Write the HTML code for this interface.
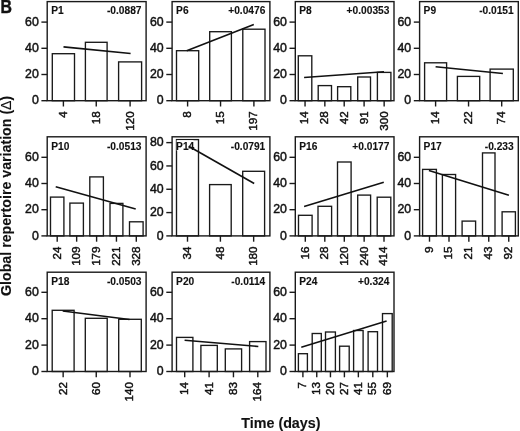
<!DOCTYPE html>
<html><head><meta charset="utf-8"><style>
html,body{margin:0;padding:0;background:#fff;}
svg{display:block;filter:grayscale(1);}
text{font-family:"Liberation Sans",sans-serif;fill:#111;stroke:#111;stroke-width:0.45px;}
.b{fill:#fff;stroke:#1a1a1a;stroke-width:1.35;}
.fr{fill:none;stroke:#1a1a1a;stroke-width:1.4;}
.k{stroke:#1a1a1a;stroke-width:1.4;}
.t{stroke:#111;stroke-width:1.6;}
.yl{font-size:12.3px;text-anchor:end;}
.xl{font-size:11.6px;text-anchor:end;}
.pl{font-size:10.2px;font-weight:bold;letter-spacing:0px;stroke-width:0.12px;}
.ti{font-size:14px;font-weight:bold;stroke-width:0.12px;}
</style></head><body>
<svg width="520" height="431" viewBox="0 0 520 431">
<text x="0.6" y="13" style="font-size:18px;font-weight:bold" transform="translate(0.6,13) scale(0.88,1) translate(-0.6,-13)">B</text>
<text transform="translate(11.2,195.8) rotate(-90)" class="ti" text-anchor="middle" style="font-size:14.2px">Global repertoire variation (<tspan style="font-weight:normal">Δ</tspan>)</text>
<text x="280.9" y="427.8" class="ti" text-anchor="middle" style="font-size:14.3px">Time (days)</text>
<rect x="52.3" y="53.7" width="22.2" height="47" class="b"/>
<rect x="85.4" y="42.3" width="21.7" height="58.4" class="b"/>
<rect x="118.6" y="61.9" width="23" height="38.8" class="b"/>
<line x1="63.5" y1="46.9" x2="130.6" y2="53.5" class="t"/>
<rect x="47.2" y="1.6" width="98.9" height="99.1" class="fr"/>
<line x1="41.4" y1="100.7" x2="47.2" y2="100.7" class="k"/>
<text transform="translate(38.8,104.3) scale(1,1)" class="yl">0</text>
<line x1="41.4" y1="74.5" x2="47.2" y2="74.5" class="k"/>
<text transform="translate(38.8,78.1) scale(1,1)" class="yl">20</text>
<line x1="41.4" y1="48.3" x2="47.2" y2="48.3" class="k"/>
<text transform="translate(38.8,51.9) scale(1,1)" class="yl">40</text>
<line x1="41.4" y1="22.1" x2="47.2" y2="22.1" class="k"/>
<text transform="translate(38.8,25.7) scale(1,1)" class="yl">60</text>
<line x1="63.4" y1="100.7" x2="63.4" y2="106.5" class="k"/>
<text transform="translate(66.8,111.3) rotate(-90)" class="xl">4</text>
<line x1="96.25" y1="100.7" x2="96.25" y2="106.5" class="k"/>
<text transform="translate(99.65,111.3) rotate(-90)" class="xl">18</text>
<line x1="130.1" y1="100.7" x2="130.1" y2="106.5" class="k"/>
<text transform="translate(133.5,111.3) rotate(-90)" class="xl">120</text>
<text transform="translate(51.2,14.3) scale(1,1)" class="pl">P1</text>
<text transform="translate(141.5,14.3) scale(1,1)" class="pl" text-anchor="end">-0.0887</text>
<rect x="176.5" y="50.7" width="22.2" height="50" class="b"/>
<rect x="209.7" y="31.7" width="21.7" height="69" class="b"/>
<rect x="242.8" y="29.2" width="22.2" height="71.5" class="b"/>
<line x1="186.7" y1="50.7" x2="253.8" y2="24.6" class="t"/>
<rect x="172.1" y="1.6" width="97.8" height="99.1" class="fr"/>
<line x1="166.3" y1="100.7" x2="172.1" y2="100.7" class="k"/>
<text transform="translate(163.7,104.3) scale(1,1)" class="yl">0</text>
<line x1="166.3" y1="74.5" x2="172.1" y2="74.5" class="k"/>
<text transform="translate(163.7,78.1) scale(1,1)" class="yl">20</text>
<line x1="166.3" y1="48.3" x2="172.1" y2="48.3" class="k"/>
<text transform="translate(163.7,51.9) scale(1,1)" class="yl">40</text>
<line x1="166.3" y1="22.1" x2="172.1" y2="22.1" class="k"/>
<text transform="translate(163.7,25.7) scale(1,1)" class="yl">60</text>
<line x1="187.6" y1="100.7" x2="187.6" y2="106.5" class="k"/>
<text transform="translate(191,111.3) rotate(-90)" class="xl">8</text>
<line x1="220.55" y1="100.7" x2="220.55" y2="106.5" class="k"/>
<text transform="translate(223.95,111.3) rotate(-90)" class="xl">15</text>
<line x1="253.9" y1="100.7" x2="253.9" y2="106.5" class="k"/>
<text transform="translate(257.3,111.3) rotate(-90)" class="xl">197</text>
<text transform="translate(176.1,14.3) scale(1,1)" class="pl">P6</text>
<text transform="translate(265.3,14.3) scale(1,1)" class="pl" text-anchor="end">+0.0476</text>
<rect x="298.3" y="55.8" width="13.5" height="44.9" class="b"/>
<rect x="318.2" y="85.6" width="13.3" height="15.1" class="b"/>
<rect x="337.6" y="86.7" width="13.2" height="14" class="b"/>
<rect x="357.7" y="77" width="12.8" height="23.7" class="b"/>
<rect x="377.4" y="72.4" width="13.5" height="28.3" class="b"/>
<line x1="304.1" y1="77.5" x2="384" y2="71.8" class="t"/>
<rect x="295.3" y="1.6" width="98.7" height="99.1" class="fr"/>
<line x1="289.5" y1="100.7" x2="295.3" y2="100.7" class="k"/>
<text transform="translate(286.9,104.3) scale(1,1)" class="yl">0</text>
<line x1="289.5" y1="74.5" x2="295.3" y2="74.5" class="k"/>
<text transform="translate(286.9,78.1) scale(1,1)" class="yl">20</text>
<line x1="289.5" y1="48.3" x2="295.3" y2="48.3" class="k"/>
<text transform="translate(286.9,51.9) scale(1,1)" class="yl">40</text>
<line x1="289.5" y1="22.1" x2="295.3" y2="22.1" class="k"/>
<text transform="translate(286.9,25.7) scale(1,1)" class="yl">60</text>
<line x1="305.05" y1="100.7" x2="305.05" y2="106.5" class="k"/>
<text transform="translate(308.45,111.3) rotate(-90)" class="xl">14</text>
<line x1="324.85" y1="100.7" x2="324.85" y2="106.5" class="k"/>
<text transform="translate(328.25,111.3) rotate(-90)" class="xl">28</text>
<line x1="344.2" y1="100.7" x2="344.2" y2="106.5" class="k"/>
<text transform="translate(347.6,111.3) rotate(-90)" class="xl">42</text>
<line x1="364.1" y1="100.7" x2="364.1" y2="106.5" class="k"/>
<text transform="translate(367.5,111.3) rotate(-90)" class="xl">91</text>
<line x1="384.15" y1="100.7" x2="384.15" y2="106.5" class="k"/>
<text transform="translate(387.55,111.3) rotate(-90)" class="xl">300</text>
<text transform="translate(299.3,14.3) scale(1,1)" class="pl">P8</text>
<text transform="translate(389.4,14.3) scale(1,1)" class="pl" text-anchor="end">+0.00353</text>
<rect x="424.6" y="62.8" width="22" height="37.9" class="b"/>
<rect x="457.4" y="76.4" width="22.3" height="24.3" class="b"/>
<rect x="490.1" y="69.1" width="23.2" height="31.6" class="b"/>
<line x1="435.6" y1="66.8" x2="502.9" y2="73.5" class="t"/>
<rect x="419.6" y="1.6" width="98.7" height="99.1" class="fr"/>
<line x1="413.8" y1="100.7" x2="419.6" y2="100.7" class="k"/>
<text transform="translate(411.2,104.3) scale(1,1)" class="yl">0</text>
<line x1="413.8" y1="74.5" x2="419.6" y2="74.5" class="k"/>
<text transform="translate(411.2,78.1) scale(1,1)" class="yl">20</text>
<line x1="413.8" y1="48.3" x2="419.6" y2="48.3" class="k"/>
<text transform="translate(411.2,51.9) scale(1,1)" class="yl">40</text>
<line x1="413.8" y1="22.1" x2="419.6" y2="22.1" class="k"/>
<text transform="translate(411.2,25.7) scale(1,1)" class="yl">60</text>
<line x1="435.6" y1="100.7" x2="435.6" y2="106.5" class="k"/>
<text transform="translate(439,111.3) rotate(-90)" class="xl">14</text>
<line x1="468.55" y1="100.7" x2="468.55" y2="106.5" class="k"/>
<text transform="translate(471.95,111.3) rotate(-90)" class="xl">22</text>
<line x1="501.7" y1="100.7" x2="501.7" y2="106.5" class="k"/>
<text transform="translate(505.1,111.3) rotate(-90)" class="xl">74</text>
<text transform="translate(423.6,14.3) scale(1,1)" class="pl">P9</text>
<text transform="translate(513.7,14.3) scale(1,1)" class="pl" text-anchor="end">-0.0151</text>
<rect x="50.5" y="197.1" width="13.4" height="38.8" class="b"/>
<rect x="69.9" y="203.1" width="13.5" height="32.8" class="b"/>
<rect x="89.8" y="176.9" width="13.6" height="59" class="b"/>
<rect x="110" y="203.4" width="12.9" height="32.5" class="b"/>
<rect x="129.5" y="221.8" width="13.6" height="14.1" class="b"/>
<line x1="55.7" y1="186.7" x2="135.7" y2="208.9" class="t"/>
<rect x="47.2" y="136.8" width="98.9" height="99.1" class="fr"/>
<line x1="41.4" y1="235.9" x2="47.2" y2="235.9" class="k"/>
<text transform="translate(38.8,239.5) scale(1,1)" class="yl">0</text>
<line x1="41.4" y1="209.7" x2="47.2" y2="209.7" class="k"/>
<text transform="translate(38.8,213.3) scale(1,1)" class="yl">20</text>
<line x1="41.4" y1="183.5" x2="47.2" y2="183.5" class="k"/>
<text transform="translate(38.8,187.1) scale(1,1)" class="yl">40</text>
<line x1="41.4" y1="157.3" x2="47.2" y2="157.3" class="k"/>
<text transform="translate(38.8,160.9) scale(1,1)" class="yl">60</text>
<line x1="57.2" y1="235.9" x2="57.2" y2="241.7" class="k"/>
<text transform="translate(60.6,246.5) rotate(-90)" class="xl">24</text>
<line x1="76.65" y1="235.9" x2="76.65" y2="241.7" class="k"/>
<text transform="translate(80.05,246.5) rotate(-90)" class="xl">109</text>
<line x1="96.6" y1="235.9" x2="96.6" y2="241.7" class="k"/>
<text transform="translate(100,246.5) rotate(-90)" class="xl">179</text>
<line x1="116.45" y1="235.9" x2="116.45" y2="241.7" class="k"/>
<text transform="translate(119.85,246.5) rotate(-90)" class="xl">221</text>
<line x1="136.3" y1="235.9" x2="136.3" y2="241.7" class="k"/>
<text transform="translate(139.7,246.5) rotate(-90)" class="xl">328</text>
<text transform="translate(51.2,149.5) scale(1,1)" class="pl">P10</text>
<text transform="translate(141.5,149.5) scale(1,1)" class="pl" text-anchor="end">-0.0513</text>
<rect x="176.5" y="139.6" width="22" height="96.3" class="b"/>
<rect x="209.6" y="184.6" width="21.6" height="51.3" class="b"/>
<rect x="242.7" y="171.3" width="21.9" height="64.6" class="b"/>
<rect x="176.6" y="140.2" width="16.9" height="10.4" fill="#fff"/>
<line x1="188.7" y1="146.3" x2="254.2" y2="183.5" class="t"/>
<rect x="172.1" y="136.8" width="97.8" height="99.1" class="fr"/>
<line x1="166.3" y1="235.9" x2="172.1" y2="235.9" class="k"/>
<text transform="translate(163.7,239.5) scale(1,1)" class="yl">0</text>
<line x1="166.3" y1="212.58" x2="172.1" y2="212.58" class="k"/>
<text transform="translate(163.7,216.18) scale(1,1)" class="yl">20</text>
<line x1="166.3" y1="189.26" x2="172.1" y2="189.26" class="k"/>
<text transform="translate(163.7,192.86) scale(1,1)" class="yl">40</text>
<line x1="166.3" y1="165.94" x2="172.1" y2="165.94" class="k"/>
<text transform="translate(163.7,169.54) scale(1,1)" class="yl">60</text>
<line x1="166.3" y1="142.62" x2="172.1" y2="142.62" class="k"/>
<text transform="translate(163.7,146.22) scale(1,1)" class="yl">80</text>
<line x1="187.5" y1="235.9" x2="187.5" y2="241.7" class="k"/>
<text transform="translate(190.9,246.5) rotate(-90)" class="xl">34</text>
<line x1="220.4" y1="235.9" x2="220.4" y2="241.7" class="k"/>
<text transform="translate(223.8,246.5) rotate(-90)" class="xl">48</text>
<line x1="253.65" y1="235.9" x2="253.65" y2="241.7" class="k"/>
<text transform="translate(257.05,246.5) rotate(-90)" class="xl">180</text>
<text transform="translate(176.1,149.5) scale(1,1)" class="pl">P14</text>
<text transform="translate(265.3,149.5) scale(1,1)" class="pl" text-anchor="end">-0.0791</text>
<rect x="298.5" y="215.3" width="13.6" height="20.6" class="b"/>
<rect x="318" y="206.3" width="13.6" height="29.6" class="b"/>
<rect x="337.5" y="162" width="13.6" height="73.9" class="b"/>
<rect x="357.7" y="195.1" width="12.9" height="40.8" class="b"/>
<rect x="377.2" y="197.2" width="13.6" height="38.7" class="b"/>
<line x1="304.1" y1="206.6" x2="383.8" y2="182.3" class="t"/>
<rect x="295.3" y="136.8" width="98.7" height="99.1" class="fr"/>
<line x1="289.5" y1="235.9" x2="295.3" y2="235.9" class="k"/>
<text transform="translate(286.9,239.5) scale(1,1)" class="yl">0</text>
<line x1="289.5" y1="209.7" x2="295.3" y2="209.7" class="k"/>
<text transform="translate(286.9,213.3) scale(1,1)" class="yl">20</text>
<line x1="289.5" y1="183.5" x2="295.3" y2="183.5" class="k"/>
<text transform="translate(286.9,187.1) scale(1,1)" class="yl">40</text>
<line x1="289.5" y1="157.3" x2="295.3" y2="157.3" class="k"/>
<text transform="translate(286.9,160.9) scale(1,1)" class="yl">60</text>
<line x1="305.3" y1="235.9" x2="305.3" y2="241.7" class="k"/>
<text transform="translate(308.7,246.5) rotate(-90)" class="xl">16</text>
<line x1="324.8" y1="235.9" x2="324.8" y2="241.7" class="k"/>
<text transform="translate(328.2,246.5) rotate(-90)" class="xl">28</text>
<line x1="344.3" y1="235.9" x2="344.3" y2="241.7" class="k"/>
<text transform="translate(347.7,246.5) rotate(-90)" class="xl">120</text>
<line x1="364.15" y1="235.9" x2="364.15" y2="241.7" class="k"/>
<text transform="translate(367.55,246.5) rotate(-90)" class="xl">240</text>
<line x1="384" y1="235.9" x2="384" y2="241.7" class="k"/>
<text transform="translate(387.4,246.5) rotate(-90)" class="xl">414</text>
<text transform="translate(299.3,149.5) scale(1,1)" class="pl">P16</text>
<text transform="translate(389.4,149.5) scale(1,1)" class="pl" text-anchor="end">+0.0177</text>
<rect x="422.6" y="169.4" width="13.8" height="66.5" class="b"/>
<rect x="442.4" y="174.5" width="13.2" height="61.4" class="b"/>
<rect x="462.1" y="221.1" width="13.5" height="14.8" class="b"/>
<rect x="482.5" y="152.9" width="12.5" height="83" class="b"/>
<rect x="502.1" y="211.8" width="13.3" height="24.1" class="b"/>
<line x1="428.9" y1="170.5" x2="508.9" y2="195.3" class="t"/>
<rect x="419.6" y="136.8" width="98.7" height="99.1" class="fr"/>
<line x1="413.8" y1="235.9" x2="419.6" y2="235.9" class="k"/>
<text transform="translate(411.2,239.5) scale(1,1)" class="yl">0</text>
<line x1="413.8" y1="209.7" x2="419.6" y2="209.7" class="k"/>
<text transform="translate(411.2,213.3) scale(1,1)" class="yl">20</text>
<line x1="413.8" y1="183.5" x2="419.6" y2="183.5" class="k"/>
<text transform="translate(411.2,187.1) scale(1,1)" class="yl">40</text>
<line x1="413.8" y1="157.3" x2="419.6" y2="157.3" class="k"/>
<text transform="translate(411.2,160.9) scale(1,1)" class="yl">60</text>
<line x1="429.5" y1="235.9" x2="429.5" y2="241.7" class="k"/>
<text transform="translate(432.9,246.5) rotate(-90)" class="xl">9</text>
<line x1="449" y1="235.9" x2="449" y2="241.7" class="k"/>
<text transform="translate(452.4,246.5) rotate(-90)" class="xl">15</text>
<line x1="468.85" y1="235.9" x2="468.85" y2="241.7" class="k"/>
<text transform="translate(472.25,246.5) rotate(-90)" class="xl">21</text>
<line x1="488.75" y1="235.9" x2="488.75" y2="241.7" class="k"/>
<text transform="translate(492.15,246.5) rotate(-90)" class="xl">43</text>
<line x1="508.75" y1="235.9" x2="508.75" y2="241.7" class="k"/>
<text transform="translate(512.15,246.5) rotate(-90)" class="xl">92</text>
<text transform="translate(423.6,149.5) scale(1,1)" class="pl">P17</text>
<text transform="translate(513.7,149.5) scale(1,1)" class="pl" text-anchor="end">-0.233</text>
<rect x="52.2" y="310.3" width="21.9" height="61.2" class="b"/>
<rect x="85.3" y="318.3" width="21.9" height="53.2" class="b"/>
<rect x="118.7" y="319.3" width="22.6" height="52.2" class="b"/>
<line x1="62.7" y1="311" x2="129.5" y2="319.5" class="t"/>
<rect x="47.2" y="272.2" width="98.9" height="99.3" class="fr"/>
<line x1="41.4" y1="371.5" x2="47.2" y2="371.5" class="k"/>
<text transform="translate(38.8,375.1) scale(1,1)" class="yl">0</text>
<line x1="41.4" y1="345.1" x2="47.2" y2="345.1" class="k"/>
<text transform="translate(38.8,348.7) scale(1,1)" class="yl">20</text>
<line x1="41.4" y1="318.7" x2="47.2" y2="318.7" class="k"/>
<text transform="translate(38.8,322.3) scale(1,1)" class="yl">40</text>
<line x1="41.4" y1="292.3" x2="47.2" y2="292.3" class="k"/>
<text transform="translate(38.8,295.9) scale(1,1)" class="yl">60</text>
<line x1="63.15" y1="371.5" x2="63.15" y2="377.3" class="k"/>
<text transform="translate(66.55,382.1) rotate(-90)" class="xl">22</text>
<line x1="96.25" y1="371.5" x2="96.25" y2="377.3" class="k"/>
<text transform="translate(99.65,382.1) rotate(-90)" class="xl">60</text>
<line x1="130" y1="371.5" x2="130" y2="377.3" class="k"/>
<text transform="translate(133.4,382.1) rotate(-90)" class="xl">140</text>
<text transform="translate(51.2,284.9) scale(1,1)" class="pl">P18</text>
<text transform="translate(141.5,284.9) scale(1,1)" class="pl" text-anchor="end">-0.0503</text>
<rect x="176.5" y="337.4" width="16.4" height="34.1" class="b"/>
<rect x="200.9" y="345.4" width="16.4" height="26.1" class="b"/>
<rect x="225.3" y="348.9" width="16.3" height="22.6" class="b"/>
<rect x="249.6" y="341.6" width="16.4" height="29.9" class="b"/>
<line x1="184.6" y1="340.2" x2="258.3" y2="346.5" class="t"/>
<rect x="172.1" y="272.2" width="97.8" height="99.3" class="fr"/>
<line x1="166.3" y1="371.5" x2="172.1" y2="371.5" class="k"/>
<text transform="translate(163.7,375.1) scale(1,1)" class="yl">0</text>
<line x1="166.3" y1="345.1" x2="172.1" y2="345.1" class="k"/>
<text transform="translate(163.7,348.7) scale(1,1)" class="yl">20</text>
<line x1="166.3" y1="318.7" x2="172.1" y2="318.7" class="k"/>
<text transform="translate(163.7,322.3) scale(1,1)" class="yl">40</text>
<line x1="166.3" y1="292.3" x2="172.1" y2="292.3" class="k"/>
<text transform="translate(163.7,295.9) scale(1,1)" class="yl">60</text>
<line x1="184.7" y1="371.5" x2="184.7" y2="377.3" class="k"/>
<text transform="translate(188.1,382.1) rotate(-90)" class="xl">14</text>
<line x1="209.1" y1="371.5" x2="209.1" y2="377.3" class="k"/>
<text transform="translate(212.5,382.1) rotate(-90)" class="xl">41</text>
<line x1="233.45" y1="371.5" x2="233.45" y2="377.3" class="k"/>
<text transform="translate(236.85,382.1) rotate(-90)" class="xl">83</text>
<line x1="257.8" y1="371.5" x2="257.8" y2="377.3" class="k"/>
<text transform="translate(261.2,382.1) rotate(-90)" class="xl">164</text>
<text transform="translate(176.1,284.9) scale(1,1)" class="pl">P20</text>
<text transform="translate(265.3,284.9) scale(1,1)" class="pl" text-anchor="end">-0.0114</text>
<rect x="298.4" y="353.7" width="9" height="17.8" class="b"/>
<rect x="312.2" y="333.5" width="9.1" height="38" class="b"/>
<rect x="325.5" y="332" width="9.9" height="39.5" class="b"/>
<rect x="339.6" y="346.2" width="9.6" height="25.3" class="b"/>
<rect x="353.6" y="330.5" width="9.5" height="41" class="b"/>
<rect x="368.1" y="331.7" width="9.4" height="39.8" class="b"/>
<rect x="382.5" y="313.6" width="9.7" height="57.9" class="b"/>
<line x1="301.3" y1="347.2" x2="386.6" y2="321.1" class="t"/>
<rect x="295.3" y="272.2" width="98.7" height="99.3" class="fr"/>
<line x1="289.5" y1="371.5" x2="295.3" y2="371.5" class="k"/>
<text transform="translate(286.9,375.1) scale(1,1)" class="yl">0</text>
<line x1="289.5" y1="345.1" x2="295.3" y2="345.1" class="k"/>
<text transform="translate(286.9,348.7) scale(1,1)" class="yl">20</text>
<line x1="289.5" y1="318.7" x2="295.3" y2="318.7" class="k"/>
<text transform="translate(286.9,322.3) scale(1,1)" class="yl">40</text>
<line x1="289.5" y1="292.3" x2="295.3" y2="292.3" class="k"/>
<text transform="translate(286.9,295.9) scale(1,1)" class="yl">60</text>
<line x1="302.9" y1="371.5" x2="302.9" y2="377.3" class="k"/>
<text transform="translate(306.3,382.1) rotate(-90)" class="xl">7</text>
<line x1="316.75" y1="371.5" x2="316.75" y2="377.3" class="k"/>
<text transform="translate(320.15,382.1) rotate(-90)" class="xl">13</text>
<line x1="330.45" y1="371.5" x2="330.45" y2="377.3" class="k"/>
<text transform="translate(333.85,382.1) rotate(-90)" class="xl">20</text>
<line x1="344.4" y1="371.5" x2="344.4" y2="377.3" class="k"/>
<text transform="translate(347.8,382.1) rotate(-90)" class="xl">27</text>
<line x1="358.35" y1="371.5" x2="358.35" y2="377.3" class="k"/>
<text transform="translate(361.75,382.1) rotate(-90)" class="xl">41</text>
<line x1="372.8" y1="371.5" x2="372.8" y2="377.3" class="k"/>
<text transform="translate(376.2,382.1) rotate(-90)" class="xl">55</text>
<line x1="387.35" y1="371.5" x2="387.35" y2="377.3" class="k"/>
<text transform="translate(390.75,382.1) rotate(-90)" class="xl">69</text>
<text transform="translate(299.3,284.9) scale(1,1)" class="pl">P24</text>
<text transform="translate(389.4,284.9) scale(1,1)" class="pl" text-anchor="end">+0.324</text>
</svg>
</body></html>
